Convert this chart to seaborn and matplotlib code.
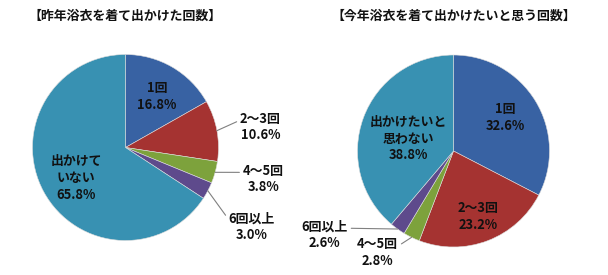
import numpy as np
import matplotlib
matplotlib.use("Agg")
import matplotlib.pyplot as plt
import seaborn as sns

# data
categories = ["1回", "2～3回", "4～5回", "6回以上", "出かけていない"]
last_year = [16.8, 10.6, 3.8, 3.0, 65.8]
this_year = [32.6, 23.2, 2.8, 2.6, 38.8]
last_labels = ["1回", "2～3回", "4～5回", "6回以上", "出かけて\nいない"]
this_labels = ["1回", "2～3回", "4～5回", "6回以上", "出かけたいと\n思わない"]
titles = ["【昨年浴衣を着て出かけた回数】", "【今年浴衣を着て出かけたいと思う回数】"]
colors = ["#3862A3", "#A53331", "#7DA23C", "#5E4A8C", "#3891B2"]

sns.set_theme(style="white")
plt.rcParams["font.family"] = ["Noto Sans CJK JP", "DejaVu Sans"]

fig = plt.figure(figsize=(6.08, 2.75), dpi=100)
W, H = 608, 275

def make_axes(cx, cy, r):
    return fig.add_axes([(cx - r) / W, (H - cy - r) / H, 2 * r / W, 2 * r / H])

# label layout: (x, y) in pie units, leader flag, text relpos
left_pos = [((0.34, 0.55), None), ((1.45, 0.22), (0, 0.72)), ((1.48, -0.34), (0, 0.72)),
            ((1.36, -0.85), (0, 0.72)), ((-0.53, -0.33), None)]
right_pos = [((0.54, 0.35), None), ((0.26, -0.68), None), ((-0.79, -1.06), (1, 0.72)),
             ((-1.34, -0.875), (1, 0.72)), ((-0.47, 0.13), None)]

def draw_pie(ax, values, labels, layout, title, title_y):
    wedges, _ = ax.pie(values, colors=colors, startangle=90, counterclock=False,
                       radius=1, wedgeprops=dict(linewidth=0.4, edgecolor="#dddddd"))
    ax.set_xlim(-1, 1)
    ax.set_ylim(-1, 1)
    ax.set_aspect("equal")
    ax.axis("off")
    for w, v, lab, (pos, rel) in zip(wedges, values, labels, layout):
        txt = f"{lab}\n{v:.1f}%"
        if rel is None:
            ax.text(pos[0], pos[1], txt, ha="center", va="center", fontsize=9.3,
                    fontweight="bold", color="#111111", linespacing=1.25)
        else:
            ang = np.deg2rad((w.theta1 + w.theta2) / 2)
            edge = (np.cos(ang), np.sin(ang))
            ha = "left" if rel[0] == 0 else "right"
            ax.annotate(txt, xy=edge, xytext=pos, ha="center", va="center",
                        fontsize=9.3, fontweight="bold", color="#111111",
                        linespacing=1.25, annotation_clip=False,
                        arrowprops=dict(arrowstyle="-", color="#808080", lw=0.8,
                                        shrinkA=0, shrinkB=0, relpos=rel))
    ax.text(0, title_y, title, ha="center", va="center", fontsize=9.3,
            fontweight="bold", color="#111111", transform=ax.transData)

ax1 = make_axes(125.5, 147.5, 93)
draw_pie(ax1, last_year, last_labels, left_pos, titles[0], (147.5 - 16) / 93)

ax2 = make_axes(453.5, 151, 96)
draw_pie(ax2, this_year, this_labels, right_pos, titles[1], (151 - 16) / 96)

fig.savefig("out.png", dpi=100)
